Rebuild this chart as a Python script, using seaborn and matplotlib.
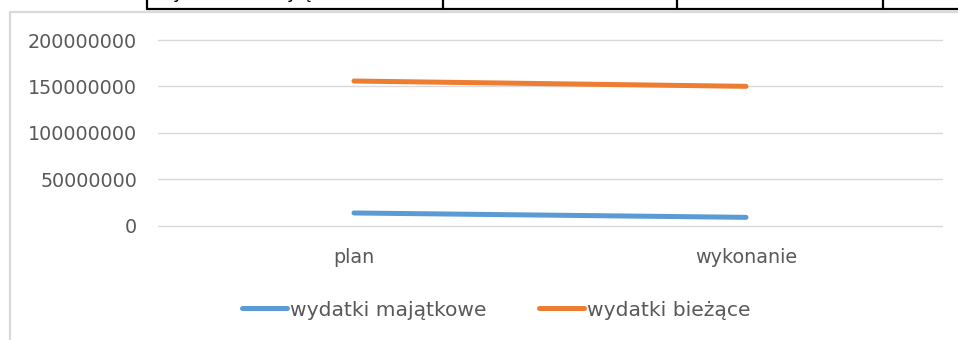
import matplotlib
matplotlib.use("Agg")
import matplotlib.pyplot as plt
import seaborn as sns
import pandas as pd
from matplotlib.lines import Line2D

# Budget data (PLN)
categories = ["plan", "wykonanie"]
wydatki_majatkowe = [13700000, 9000000]
wydatki_biezace = [155800000, 150100000]
series_names = ["wydatki majątkowe", "wydatki bieżące"]
y_ticks = [0, 50000000, 100000000, 150000000, 200000000]

colors = ["#5B9BD5", "#ED7D31"]
text_color = "#595959"
grid_color = "#D9D9D9"

df = pd.DataFrame({
    "kategoria": categories * 2,
    "wartość": wydatki_majatkowe + wydatki_biezace,
    "seria": [series_names[0]] * 2 + [series_names[1]] * 2,
})
df["x"] = df["kategoria"].map({c: i for i, c in enumerate(categories)})

sns.set_theme(style="white")
plt.rcParams["font.family"] = ["DejaVu Sans"]

W, H = 958, 340
fig = plt.figure(figsize=(W / 100, H / 100), dpi=100)
fig.patch.set_facecolor("white")

# chart frame and the table row above it
fig.add_artist(Line2D([10 / W, 10 / W], [0, 1 - 12 / H], color=grid_color, lw=1.6))
fig.add_artist(Line2D([10 / W, 1], [1 - 12 / H, 1 - 12 / H], color=grid_color, lw=1.6))
fig.add_artist(Line2D([147 / W, 1], [1 - 8.5 / H, 1 - 8.5 / H], color="black", lw=1.6))
for xv in [147, 443, 677, 883]:
    fig.add_artist(Line2D([xv / W, xv / W], [1 - 9 / H, 1.01], color="black", lw=1.6))
for xv, ch in [(178, "y"), (292, "y"), (307, "ę"), (839, ","), (938, ",")]:
    fig.text(xv / W, 1 + 1.5 / H, ch, fontsize=13, color="black",
             ha="center", va="baseline")

left, right = 158 / W, 942 / W
bottom, top = 1 - 225.7 / H, 1 - 40 / H
ax = fig.add_axes([left, bottom, right - left, top - bottom])

ax.set_ylim(0, 200000000)
for v in y_ticks:
    ax.axhline(v, color=grid_color, lw=1.0, zorder=0, clip_on=False)

sns.lineplot(data=df, x="x", y="wartość", hue="seria", palette=colors,
             linewidth=3.6, ax=ax, legend=False, solid_capstyle="round")

ax.set_xlim(-0.5, 1.5)
ax.set_ylim(0, 200000000)
ax.set_yticks(y_ticks)
ax.set_yticklabels([str(v) for v in y_ticks])
ax.set_xticks(range(len(categories)))
ax.set_xticklabels(categories)
ax.grid(False)
for s in ax.spines.values():
    s.set_visible(False)
ax.tick_params(axis="y", length=0, pad=15, labelsize=13.8, labelcolor=text_color)
ax.tick_params(axis="x", length=0, pad=16, labelsize=13.8, labelcolor=text_color)
ax.set_xlabel("")
ax.set_ylabel("")

handles = [Line2D([0], [0], color=c, lw=3.6, solid_capstyle="round") for c in colors]
leg = fig.legend(handles, series_names, loc="center", bbox_to_anchor=(0.518, 1 - 310 / H),
                 ncol=2, frameon=False, fontsize=14.6, handlelength=2.2,
                 handletextpad=0.15, columnspacing=2.6, labelcolor=text_color)

fig.savefig("out.png", dpi=100, facecolor="white")
